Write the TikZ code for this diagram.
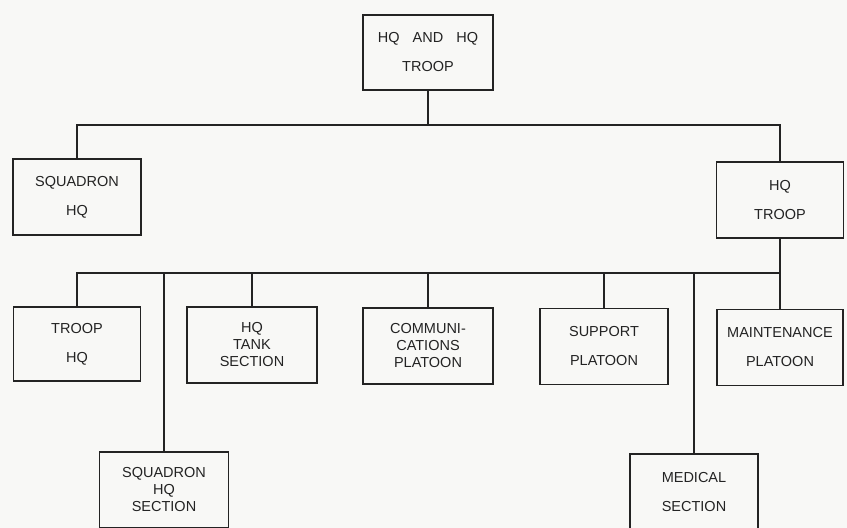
\documentclass[tikz,border=0pt]{standalone}
\usepackage{fontspec}
\setmainfont{Liberation Sans}
\definecolor{paper}{RGB}{248,248,246}
\definecolor{ink}{RGB}{35,35,35}
\begin{document}
\begin{tikzpicture}[x=1pt,y=-1pt,
  unit/.style={draw=ink, line width=1.4pt, rectangle, minimum width=128pt, minimum height=76pt,
    inner sep=0pt, align=center, text=ink, font=\fontsize{14.5}{17}\selectfont},
  link/.style={draw=ink, line width=1.4pt}]
\fill[paper] (0,0) rectangle (847,528);
\useasboundingbox (0,0) rectangle (847,528);
\node[unit, minimum width=130pt, minimum height=75pt] (top) at (428,52.5) {HQ\hspace{0.9em}AND\hspace{0.9em}HQ\\[12pt]TROOP};
\node[unit] (sqhq) at (77,197) {SQUADRON\\[12pt]HQ};
\node[unit, minimum width=127pt] (hqtroop) at (780,200) {HQ\\[12pt]TROOP};
\node[unit, minimum width=127pt, minimum height=74pt] (troophq) at (77,344) {TROOP\\[12pt]HQ};
\node[unit, minimum width=130pt] (tank) at (252,345) {HQ\\TANK\\SECTION};
\node[unit, minimum width=130pt] (comm) at (428,346) {COMMUNI-\\CATIONS\\PLATOON};
\node[unit] (support) at (604,346.5) {SUPPORT\\[12pt]PLATOON};
\node[unit, minimum width=126pt] (maint) at (780,347.5) {MAINTENANCE\\[12pt]PLATOON};
\node[unit, minimum width=129pt] (sqhqsec) at (164,490) {SQUADRON\\HQ\\SECTION};
\node[unit] (medical) at (694,492) {MEDICAL\\[12pt]SECTION};
\coordinate (bus1) at (428,125);
\coordinate (bus2) at (780,273);
\draw[link] (top.south) -- (bus1);
\draw[link] (sqhq.north) |- (bus1) -| (hqtroop.north);
\draw[link] (hqtroop.south) -- (maint.north);
\draw[link] (troophq.north) |- (bus2);
\draw[link] (tank.north) -- (tank.north |- bus2);
\draw[link] (comm.north) -- (comm.north |- bus2);
\draw[link] (support.north) -- (support.north |- bus2);
\draw[link] (sqhqsec.north) -- (sqhqsec.north |- bus2);
\draw[link] (medical.north) -- (medical.north |- bus2);
\end{tikzpicture}
\end{document}
